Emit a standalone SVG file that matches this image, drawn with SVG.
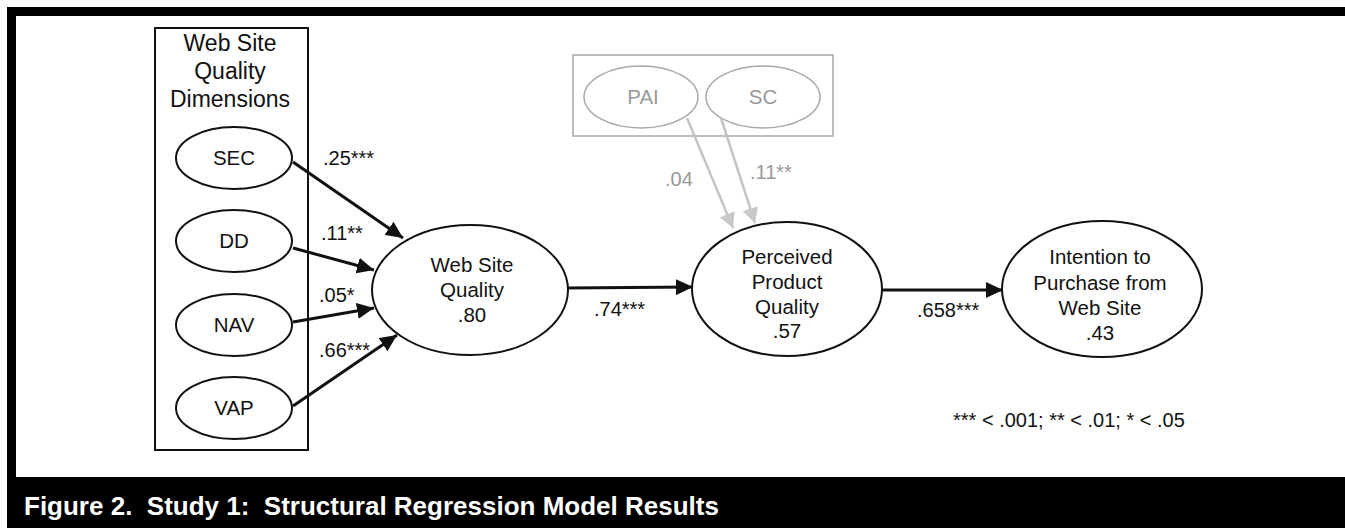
<svg xmlns="http://www.w3.org/2000/svg" width="1345" height="528" viewBox="0 0 1345 528">
<defs>
<style>
text{font-family:"Liberation Sans",Arial,sans-serif;fill:#111;text-anchor:middle}
.node{fill:#fff;stroke:#111;stroke-width:2}
.gnode{fill:#fff;stroke:#a8a8a8;stroke-width:1.5}
.gt{fill:#999}
.lbl{font-size:20px;text-anchor:start}
.nt{font-size:20.5px}
.edge{stroke:#111;stroke-width:3;fill:none}
.gedge{stroke:#c4c4c4;stroke-width:2.5;fill:none}
.cap{fill:#fff;font-weight:bold;font-size:26px;text-anchor:start;white-space:pre}
</style>
<marker id="ah" markerUnits="userSpaceOnUse" markerWidth="18" markerHeight="16" refX="17" refY="8" orient="auto">
<path d="M0,0 L17,8 L0,16 Z" fill="#111"/>
</marker>
<marker id="gah" markerUnits="userSpaceOnUse" markerWidth="16" markerHeight="16" refX="15" refY="8" orient="auto">
<path d="M0,0 L15,8 L0,16 Z" fill="#c8c8c8"/>
</marker>
</defs>
<rect x="0" y="0" width="1345" height="528" fill="#fff"/>
<rect x="7" y="7" width="1338" height="521" fill="#000"/>
<rect x="16" y="16" width="1329" height="461" fill="#fff"/>
<text class="cap" x="24" y="515" xml:space="preserve">Figure 2.  Study 1:  Structural Regression Model Results</text>

<g id="dims-box">
<rect x="155" y="28" width="153" height="422" fill="none" stroke="#111" stroke-width="2"/>
<text x="230" y="51" style="font-size:23px">Web Site</text>
<text x="230" y="79" style="font-size:23px">Quality</text>
<text x="230" y="107" style="font-size:23px">Dimensions</text>
</g>
<g id="SEC"><ellipse class="node" cx="234" cy="158" rx="58" ry="31"/><text class="nt" x="234" y="165">SEC</text></g>
<g id="DD"><ellipse class="node" cx="234" cy="241" rx="58" ry="31"/><text class="nt" x="234" y="248">DD</text></g>
<g id="NAV"><ellipse class="node" cx="234" cy="325" rx="58" ry="31"/><text class="nt" x="234" y="332">NAV</text></g>
<g id="VAP"><ellipse class="node" cx="234" cy="408" rx="58" ry="31"/><text class="nt" x="234" y="415">VAP</text></g>

<g id="mod-box">
<rect x="573" y="55" width="260" height="81" fill="none" stroke="#a8a8a8" stroke-width="1.5"/>
</g>
<g id="PAI"><ellipse class="gnode" cx="641" cy="97" rx="57" ry="31"/><text class="nt gt" x="643" y="104">PAI</text></g>
<g id="SC"><ellipse class="gnode" cx="763" cy="97" rx="57" ry="31"/><text class="nt gt" x="763" y="104">SC</text></g>

<g id="WSQ"><ellipse class="node" cx="470" cy="290" rx="98" ry="65"/>
<text class="nt" x="472" y="272">Web Site</text><text class="nt" x="472" y="297">Quality</text><text class="nt" x="472" y="322">.80</text></g>
<g id="PPQ"><ellipse class="node" cx="787" cy="289" rx="95" ry="67"/>
<text class="nt" x="787" y="264">Perceived</text><text class="nt" x="787" y="289">Product</text><text class="nt" x="787" y="314">Quality</text><text class="nt" x="787" y="338">.57</text></g>
<g id="IPW"><ellipse class="node" cx="1102" cy="289" rx="100" ry="68"/>
<text class="nt" x="1100" y="264">Intention to</text><text class="nt" x="1100" y="290">Purchase from</text><text class="nt" x="1100" y="315">Web Site</text><text class="nt" x="1100" y="340">.43</text></g>

<g id="connectors">
<line class="edge" x1="293" y1="162" x2="403" y2="238" marker-end="url(#ah)"/>
<line class="edge" x1="293" y1="248" x2="374" y2="270" marker-end="url(#ah)"/>
<line class="edge" x1="293" y1="322" x2="374" y2="308" marker-end="url(#ah)"/>
<line class="edge" x1="293" y1="406" x2="397" y2="335" marker-end="url(#ah)"/>
<line class="edge" x1="567" y1="288" x2="693" y2="287" marker-end="url(#ah)"/>
<line class="edge" x1="882" y1="290" x2="1003" y2="290" marker-end="url(#ah)"/>
<line class="gedge" x1="687" y1="118" x2="733" y2="228" marker-end="url(#gah)"/>
<line class="gedge" x1="721" y1="118" x2="755" y2="223" marker-end="url(#gah)"/>
</g>

<g id="labels">
<text class="lbl" x="323" y="165">.25***</text>
<text class="lbl" x="321" y="240">.11**</text>
<text class="lbl" x="319" y="302">.05*</text>
<text class="lbl" x="319" y="357">.66***</text>
<text class="lbl" x="594" y="316">.74***</text>
<text class="lbl" x="917" y="317">.658***</text>
<text class="lbl gt" x="665" y="186">.04</text>
<text class="lbl gt" x="750" y="179">.11**</text>
<text class="lbl" x="953" y="427">*** &lt; .001; ** &lt; .01; * &lt; .05</text>
</g>
</svg>
